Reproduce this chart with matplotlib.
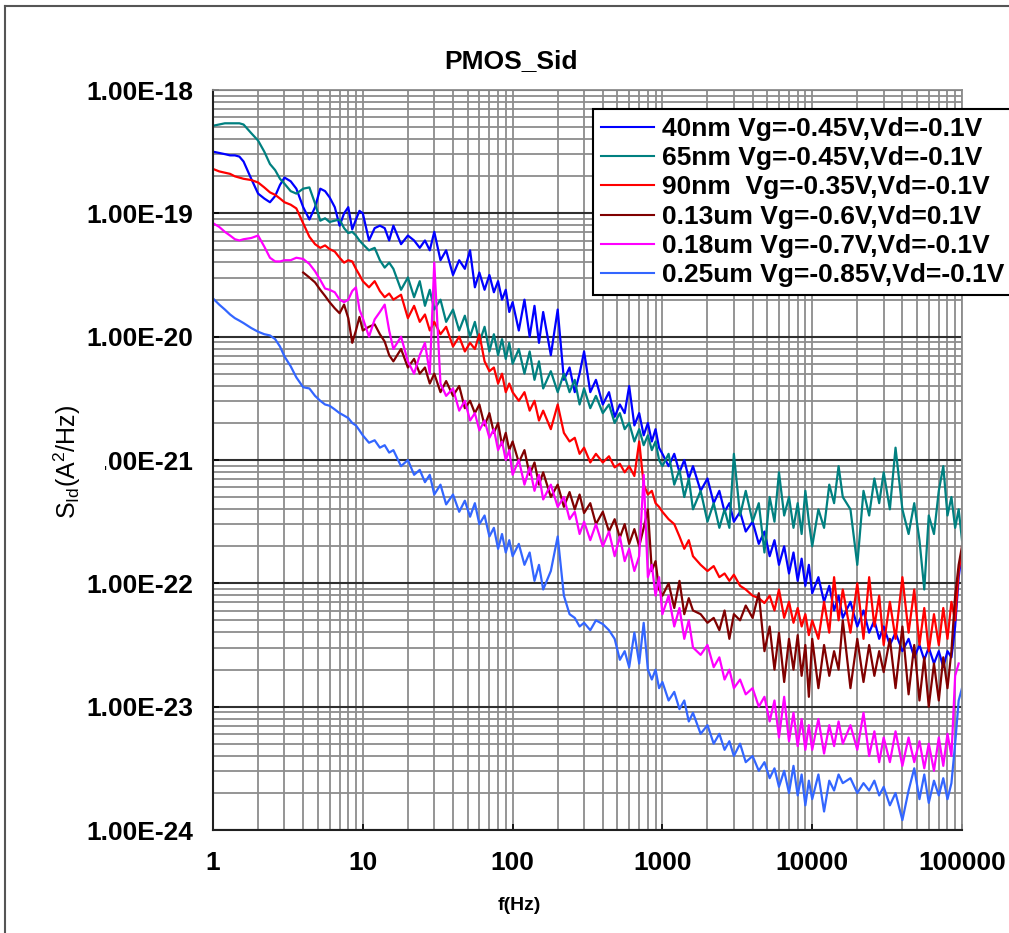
import numpy as np
import matplotlib
matplotlib.use("Agg")
import matplotlib.pyplot as plt
from matplotlib.ticker import LogLocator, NullFormatter
from matplotlib.lines import Line2D

plt.rcParams['font.family'] = ['Liberation Sans', 'DejaVu Sans']

W, H = 1009, 933

# sample frequencies (Hz), shared by all curves
freq = [1.0, 1.1, 1.2, 1.3, 1.4, 1.5, 1.6, 1.8, 2.0, 2.2, 2.4, 2.6, 2.8, 3.0, 3.3, 3.6, 4.0, 4.4, 4.8, 5.2, 5.6, 6.0, 6.5, 7.0, 7.5, 8.0, 8.5, 9.0, 9.5,
        10, 11, 12, 13, 14, 15, 16, 18, 20, 22, 24, 26, 28, 30, 33, 36, 40, 44, 48, 52, 56, 60, 65, 70, 75, 80, 85, 90, 95,
        100, 110, 120, 130, 140, 150, 160, 180, 200, 220, 240, 260, 280, 300, 330, 360, 400, 440, 480, 520, 560, 600, 650, 700, 750, 800, 850, 900, 950,
        1000, 1100, 1200, 1300, 1400, 1500, 1600, 1800, 2000, 2200, 2400, 2600, 2800, 3000, 3300, 3600, 4000, 4400, 4800, 5200, 5600, 6000, 6500, 7000, 7500, 8000, 8500, 9000, 9500,
        10000, 11000, 12000, 13000, 14000, 15000, 16000, 18000, 20000, 22000, 24000, 26000, 28000, 30000, 33000, 36000, 40000, 44000, 48000, 52000, 56000, 60000, 65000, 70000, 75000, 80000, 85000, 90000, 95000,
        100000]

nan = float('nan')

# log10 of S_Id (A^2/Hz)
sid_40nm = [-18.50, -18.51, -18.52, -18.53, -18.53, -18.54, -18.58, -18.72, -18.84, -18.88, -18.91, -18.86, -18.77, -18.71, -18.74, -18.80, -18.95, -19.05, -18.95, -18.80, -18.82, -18.87, -18.95, -19.10, -19.00, -18.95, -19.13, -19.05, -18.98,
            -19.00, -19.22, -19.12, -19.10, -19.12, -19.22, -19.10, -19.25, -19.18, -19.22, -19.28, -19.22, -19.30, -19.15, -19.38, -19.30, -19.50, -19.38, -19.45, -19.30, -19.60, -19.48, -19.62, -19.50, -19.64, -19.55, -19.70, -19.62, -19.80,
            -19.72, -19.95, -19.70, -20.00, -19.75, -20.05, -19.80, -20.15, -19.78, -20.35, -20.25, -20.45, -20.30, -20.12, -20.45, -20.35, -20.55, -20.45, -20.65, -20.55, -20.62, -20.40, -20.72, -20.62, -20.80, -20.70, -20.85, -20.75, -20.90,
            -20.95, -21.05, -20.95, -21.10, -21.00, -21.15, -21.05, -21.25, -21.15, -21.35, -21.25, -21.42, -21.35, -21.50, -21.42, -21.58, -21.50, -21.68, -21.58, -21.78, -21.65, -21.85, -21.70, -21.92, -21.75, -21.98, -21.80, -22.02, -21.85,
            -22.08, -21.95, -22.15, -22.02, -22.22, -22.10, -22.28, -22.15, -22.35, -22.22, -22.40, -22.30, -22.45, -22.35, -22.50, -22.40, -22.55, -22.45, -22.60, -22.50, -22.62, -22.52, -22.65, -22.55, -22.68, -22.55, -22.60, -22.35, -21.95,
            -21.75]

sid_65nm = [-18.29, -18.28, -18.27, -18.27, -18.27, -18.27, -18.28, -18.35, -18.41, -18.50, -18.60, -18.65, -18.72, -18.76, -18.82, -18.84, -18.80, -18.79, -18.92, -19.06, -19.04, -19.07, -19.06, -19.05, -19.12, -19.16, -19.15, -19.18, -19.22,
            -19.25, -19.30, -19.28, -19.38, -19.44, -19.40, -19.45, -19.62, -19.52, -19.68, -19.55, -19.75, -19.62, -19.78, -19.70, -19.88, -19.78, -19.95, -19.83, -20.00, -19.88, -20.05, -19.92, -20.12, -19.98, -20.15, -20.02, -20.18, -20.05,
            -20.22, -20.10, -20.30, -20.12, -20.35, -20.20, -20.42, -20.28, -20.45, -20.30, -20.45, -20.35, -20.55, -20.42, -20.58, -20.48, -20.62, -20.55, -20.70, -20.62, -20.75, -20.70, -20.85, -20.75, -20.88, -20.80, -20.92, -20.85, -21.00,
            -21.05, -20.95, -21.20, -21.08, -21.30, -21.15, -21.40, -21.25, -21.50, -21.35, -21.55, -21.40, -21.55, -20.95, -21.45, -21.25, -21.50, -21.35, -21.75, -21.30, -21.50, -21.10, -21.45, -21.30, -21.55, -21.35, -21.60, -21.25, -21.50,
            -21.70, -21.40, -21.55, -21.20, -21.35, -21.05, -21.30, -21.40, -21.85, -21.25, -21.45, -21.15, -21.35, -21.10, -21.40, -20.90, -21.40, -21.60, -21.35, -21.65, -22.05, -21.45, -21.60, -21.25, -21.05, -21.45, -21.30, -21.55, -21.40,
            -21.65]

sid_90nm = [-18.64, -18.66, -18.67, -18.68, -18.70, -18.71, -18.72, -18.73, -18.75, -18.79, -18.83, -18.85, -18.88, -18.91, -18.93, -18.96, -19.08, -19.19, -19.25, -19.28, -19.26, -19.29, -19.31, -19.36, -19.40, -19.38, -19.39, -19.45, -19.50,
            -19.55, -19.60, -19.55, -19.63, -19.68, -19.65, -19.70, -19.66, -19.85, -19.75, -19.88, -19.82, -19.95, -19.88, -19.98, -19.92, -20.08, -20.00, -20.12, -20.05, -20.10, -19.98, -20.20, -20.28, -20.25, -20.38, -20.30, -20.45, -20.38,
            -20.45, -20.52, -20.45, -20.60, -20.52, -20.68, -20.60, -20.75, -20.55, -20.78, -20.85, -20.82, -20.95, -20.90, -21.02, -20.95, -21.02, -20.97, -21.06, -21.03, -21.10, -21.05, -21.13, -20.85, -21.20, -21.28, -21.25, -21.35, -21.38,
            -21.42, -21.48, -21.52, -21.62, -21.72, -21.65, -21.78, -21.85, -21.90, -21.86, -21.95, -21.92, -21.98, -21.93, -22.02, -22.05, -22.10, -22.12, -22.16, -22.10, -22.22, -22.05, -22.28, -22.15, -22.32, -22.20, -22.35, -22.25, -22.42,
            -22.30, -22.45, -22.15, -22.40, -21.95, -22.30, -22.05, -22.40, -22.00, -22.45, -21.95, -22.35, -22.10, -22.50, -22.15, -22.45, -21.95, -22.40, -22.05, -22.50, -22.20, -22.55, -22.25, -22.50, -22.20, -22.45, -22.15, -22.30, -21.90,
            -21.75]

sid_130nm = [nan, nan, nan, nan, nan, nan, nan, nan, nan, nan, nan, nan, nan, nan, nan, nan, -19.48, -19.52, -19.56, -19.62, -19.67, -19.72, -19.77, -19.81, -19.74, -19.85, -20.05, -19.95, -19.84,
             -19.95, -19.92, -19.90, -19.98, -20.04, -20.15, -20.20, -20.10, -20.25, -20.18, -20.30, -20.25, -20.38, -20.30, -20.45, -20.36, -20.48, -20.40, -20.58, -20.52, -20.62, -20.55, -20.72, -20.62, -20.78, -20.70, -20.88, -20.78, -20.92,
             -20.85, -21.02, -20.92, -21.12, -21.02, -21.20, -21.10, -21.30, -21.20, -21.38, -21.26, -21.40, -21.28, -21.43, -21.35, -21.52, -21.42, -21.58, -21.48, -21.63, -21.52, -21.68, -21.56, -21.70, -21.55, -21.40, -21.90, -21.82, -22.05,
             -22.10, -22.00, -22.20, -21.98, -22.25, -22.12, -22.22, -22.25, -22.32, -22.28, -22.38, -22.22, -22.45, -22.25, -22.30, -22.18, -22.28, -22.08, -22.55, -22.35, -22.70, -22.40, -22.80, -22.45, -22.70, -22.42, -22.75, -22.50, -22.92,
             -22.45, -22.85, -22.50, -22.75, -22.55, -22.70, -22.30, -22.85, -22.45, -22.80, -22.50, -22.75, -22.55, -22.72, -22.45, -22.85, -22.35, -22.90, -22.50, -22.95, -22.60, -23.00, -22.65, -22.95, -22.60, -22.85, -22.55, -22.10, -21.85,
             -21.70]

sid_180nm = [-19.08, -19.11, -19.15, -19.18, -19.21, -19.22, -19.21, -19.20, -19.18, -19.27, -19.36, -19.39, -19.39, -19.38, -19.38, -19.36, -19.37, -19.41, -19.47, -19.54, -19.61, -19.62, -19.64, -19.70, -19.72, -19.70, -19.63, -19.60, -19.78,
             -19.85, -20.00, -19.86, -19.80, -19.74, -19.95, -20.10, -20.00, -20.20, -20.30, -20.15, -20.05, -20.30, -19.40, -20.38, -20.48, -20.42, -20.60, -20.52, -20.68, -20.62, -20.76, -20.68, -20.82, -20.75, -20.92, -20.85, -21.00, -20.92,
             -21.12, -21.00, -21.20, -21.06, -21.25, -21.12, -21.32, -21.20, -21.38, -21.30, -21.48, -21.42, -21.60, -21.50, -21.65, -21.52, -21.70, -21.58, -21.78, -21.62, -21.82, -21.72, -21.90, -21.78, -21.12, -21.95, -21.85, -22.10, -21.95,
             -22.25, -22.10, -22.35, -22.20, -22.45, -22.30, -22.52, -22.58, -22.50, -22.68, -22.60, -22.78, -22.70, -22.85, -22.78, -22.90, -22.85, -23.00, -22.92, -23.12, -22.95, -23.25, -22.92, -23.28, -23.05, -23.32, -23.10, -23.35, -23.15,
             -23.35, -23.10, -23.38, -23.15, -23.32, -23.12, -23.30, -23.15, -23.35, -23.05, -23.40, -23.20, -23.45, -23.25, -23.45, -23.20, -23.48, -23.25, -23.45, -23.28, -23.50, -23.30, -23.52, -23.25, -23.48, -23.22, -23.40, -22.75, -22.65,
             nan]

sid_250nm = [-19.69, -19.74, -19.78, -19.82, -19.85, -19.87, -19.89, -19.93, -19.96, -19.98, -19.99, -20.02, -20.08, -20.16, -20.24, -20.33, -20.41, -20.42, -20.48, -20.52, -20.55, -20.56, -20.59, -20.62, -20.64, -20.66, -20.70, -20.72, -20.76,
             -20.80, -20.86, -20.84, -20.90, -20.88, -20.94, -20.92, -21.05, -21.00, -21.12, -21.08, -21.18, -21.12, -21.28, -21.20, -21.36, -21.28, -21.42, -21.33, -21.46, -21.35, -21.52, -21.45, -21.62, -21.55, -21.72, -21.60, -21.75, -21.65,
             -21.78, -21.68, -21.85, -21.75, -21.98, -21.85, -22.05, -21.90, -21.62, -22.10, -22.25, -22.28, -22.35, -22.32, -22.38, -22.30, -22.33, -22.38, -22.45, -22.62, -22.55, -22.68, -22.40, -22.65, -22.32, -22.70, -22.78, -22.70, -22.85,
             -22.80, -22.95, -22.88, -23.02, -22.95, -23.12, -23.05, -23.22, -23.15, -23.30, -23.22, -23.35, -23.28, -23.40, -23.30, -23.45, -23.40, -23.52, -23.45, -23.58, -23.50, -23.65, -23.52, -23.70, -23.48, -23.72, -23.55, -23.80, -23.60,
             -23.75, -23.55, -23.85, -23.60, -23.68, -23.55, -23.62, -23.58, -23.70, -23.62, -23.68, -23.60, -23.72, -23.65, -23.80, -23.70, -23.92, -23.68, -23.50, -23.75, -23.55, -23.78, -23.60, -23.72, -23.58, -23.75, -23.62, -23.30, -22.95,
             -22.85]

series = [sid_40nm, sid_65nm, sid_90nm, sid_130nm, sid_180nm, sid_250nm]
labels = ['40nm Vg=-0.45V,Vd=-0.1V', '65nm Vg=-0.45V,Vd=-0.1V', '90nm  Vg=-0.35V,Vd=-0.1V',
          '0.13um Vg=-0.6V,Vd=0.1V', '0.18um Vg=-0.7V,Vd=-0.1V', '0.25um Vg=-0.85V,Vd=-0.1V']
colors = ['#0000ff', '#008080', '#ff0000', '#800000', '#ff00ff', '#3366ff']

xtick_vals = [1, 10, 100, 1000, 10000, 100000]
xtick_labels = ['1', '10', '100', '1000', '10000', '100000']
ytick_vals = [1e-24, 1e-23, 1e-22, 1e-21, 1e-20, 1e-19, 1e-18]
ytick_labels = ['1.00E-24', '1.00E-23', '1.00E-22', '1.00E-21', '1.00E-20', '1.00E-19', '1.00E-18']

fig = plt.figure(figsize=(W / 100, H / 100), dpi=100)
ax = fig.add_axes([213 / W, 1 - 830 / H, 749 / W, 740 / H])

f = np.array(freq)
for s, lab, c in zip(series, labels, colors):
    ax.plot(f, 10.0 ** np.array(s), color=c, lw=1.6, label=lab)

ax.set_xscale('log')
ax.set_yscale('log')
ax.set_xlim(1, 1e5)
ax.set_ylim(1e-24, 1e-18)

ax.set_xticks(xtick_vals)
ax.set_xticklabels(xtick_labels, fontweight='bold', fontsize=19)
ax.set_yticks(ytick_vals)
ax.set_yticklabels(ytick_labels, fontweight='bold', fontsize=19)
ax.xaxis.set_minor_locator(LogLocator(base=10, subs=np.arange(2, 10)))
ax.yaxis.set_minor_locator(LogLocator(base=10, subs=np.arange(2, 10)))
ax.xaxis.set_minor_formatter(NullFormatter())
ax.yaxis.set_minor_formatter(NullFormatter())

ax.grid(which='both', axis='x', color='#8c8c8c', lw=1.3)
ax.grid(which='minor', axis='y', color='#8c8c8c', lw=1.3)
ax.grid(which='major', axis='y', color='#303030', lw=1.5)
ax.set_axisbelow(True)

ax.tick_params(which='major', direction='in', length=4, width=1.2)
ax.tick_params(axis='x', which='major', pad=15)
ax.tick_params(axis='y', which='major', pad=14)
ax.tick_params(which='minor', length=0)
for side in ['left', 'bottom']:
    ax.spines[side].set_color('#202020')
    ax.spines[side].set_linewidth(1.5)
for side in ['top', 'right']:
    ax.spines[side].set_color('#8c8c8c')
    ax.spines[side].set_linewidth(1.3)

leg = ax.legend(loc='upper left', bbox_to_anchor=(593 / W, 1 - 109 / H), bbox_transform=fig.transFigure,
                frameon=True, fancybox=False, edgecolor='black', framealpha=1,
                borderpad=0.3, labelspacing=0.2, handlelength=2.0, handletextpad=0.3, borderaxespad=0,
                prop={'weight': 'bold', 'size': 19})
leg.get_frame().set_linewidth(1.5)
for line in leg.get_lines():
    line.set_linewidth(1.5)

fig.text(511 / W, 1 - 61 / H, 'PMOS_Sid', ha='center', va='center', fontweight='bold', fontsize=19)
fig.text(519 / W, 1 - 906 / H, 'f(Hz)', ha='center', va='center', fontweight='bold', fontsize=14)
fig.text(67 / W, 1 - 462 / H, r'$\mathregular{S_{Id}(A^2/Hz)}$', rotation=90, ha='center', va='center',
         fontsize=18, bbox=dict(boxstyle='square,pad=0.9', fc='white', ec='none'))

# outer frame (only top and left edges are visible)
fig.add_artist(Line2D([5 / W, 1], [1 - 6 / H, 1 - 6 / H], transform=fig.transFigure, color='#555555', lw=1.5))
fig.add_artist(Line2D([5 / W, 5 / W], [0, 1 - 6 / H], transform=fig.transFigure, color='#555555', lw=1.5))

fig.savefig('out.png', dpi=100)
